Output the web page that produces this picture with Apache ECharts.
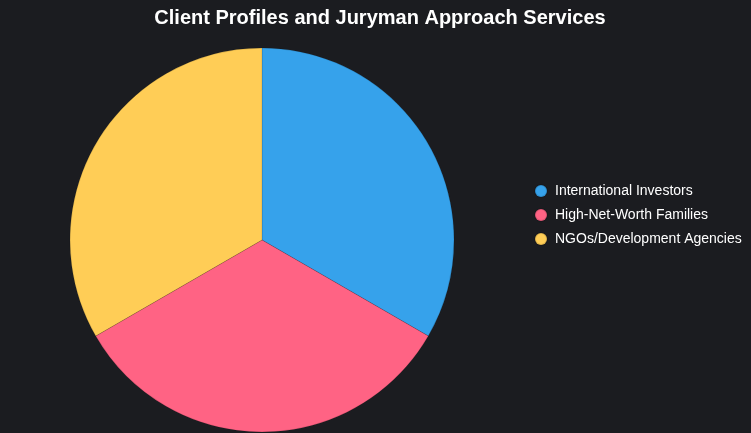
<!DOCTYPE html>
<html><head><meta charset="utf-8">
<script src="https://cdn.jsdelivr.net/npm/echarts@6/dist/echarts.min.js"></script>
<style>html,body{margin:0;padding:0;background:#1b1c20;}#c{width:751px;height:433px;}</style>
</head><body><div id="c"></div>
<script>
const categories = ["International Investors", "High-Net-Worth Families", "NGOs/Development Agencies"];
const values = [1, 1, 1];
const colors = ["#36a2eb", "#ff6384", "#ffcd56"];
const chart = echarts.init(document.getElementById('c'), null, {renderer: 'canvas'});
chart.setOption({
  backgroundColor: '#1b1c20',
  animation: false,
  title: {
    text: 'Client Profiles and Juryman Approach Services',
    left: 375, top: 3, textAlign: 'center',
    textStyle: {color: '#ffffff', fontSize: 20, fontWeight: 'bold', fontFamily: 'Liberation Sans, Arial, sans-serif'}
  },
  legend: {
    orient: 'vertical', left: 529, top: 179,
    icon: 'circle', itemWidth: 12, itemHeight: 12, itemGap: 10,
    data: categories,
    textStyle: {color: '#ffffff', fontSize: 14, lineHeight: 14, padding: [0, 0, 0, 3], fontFamily: 'Liberation Sans, Arial, sans-serif'}
  },
  series: [{
    type: 'pie',
    center: [262, 240], radius: 192,
    startAngle: 90, clockwise: true,
    label: {show: false}, labelLine: {show: false},
    itemStyle: {borderWidth: 1, borderColor: 'rgba(0,0,0,0.12)'},
    emphasis: {disabled: true},
    data: categories.map((c, i) => ({name: c, value: values[i], itemStyle: {color: colors[i]}}))
  }]
});
</script></body></html>
